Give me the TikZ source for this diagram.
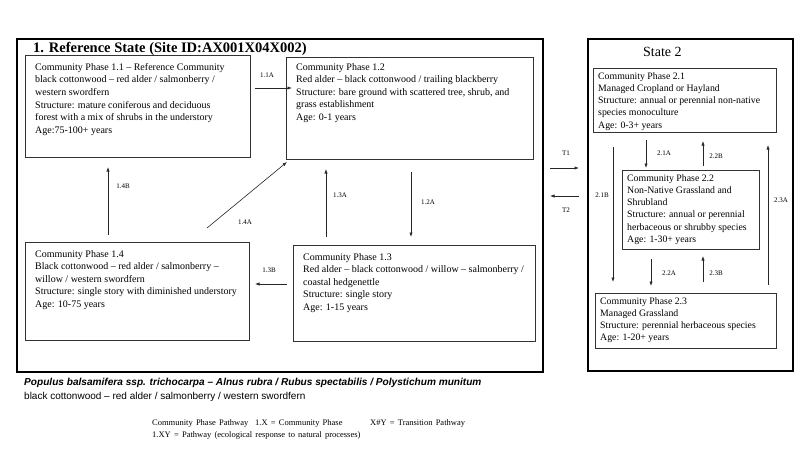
\documentclass[tikz,border=0pt]{standalone}
\usepackage{fontspec}
\setmainfont{Liberation Serif}
\newfontfamily\arialf{Liberation Sans}
\usetikzlibrary{arrows.meta,calc}
\newcommand\legendspace{\spaceskip=3.2pt plus 1pt\relax}
\begin{document}
\begin{tikzpicture}[x=1pt,y=-1pt,
  statebox/.style={draw=black,line width=2.4pt},
  pbox/.style={draw=black!80,line width=0.6pt,anchor=north west,inner sep=0pt},
  ptext/.style={anchor=north west,align=left,inner xsep=10pt,inner ysep=8pt,font=\fontsize{10}{12.6}\selectfont},
  ptextb/.style={ptext,inner xsep=5pt,inner ysep=4pt,font=\fontsize{9.8}{12.3}\selectfont},
  lbl/.style={font=\fontsize{7}{8}\selectfont,inner sep=1pt},
  legend/.style={anchor=north west,inner sep=0pt,font=\fontsize{8.5}{11}\selectfont\legendspace},
  arr/.style={draw=black!85,line width=0.6pt,-{Latex[length=4.5pt,width=3.2pt]}}
]
\useasboundingbox (0,0) rectangle (800,450);
\fill[white] (0,0) rectangle (800,450);
% state boxes
\node[statebox,anchor=north west,minimum width=526pt,minimum height=333pt,inner sep=0pt] (s1) at (16,38) {};
\node[statebox,anchor=north west,minimum width=205pt,minimum height=332pt,inner sep=0pt] (s2) at (587,38) {};
\node[anchor=north west,inner sep=0pt,font=\fontsize{14.5}{16}\selectfont\bfseries] (t1) at (33,42) {1. Reference State (Site ID:AX001X04X002)};
\node[anchor=north west,inner sep=0pt,font=\fontsize{14}{16}\selectfont] (t2) at (643,47) {State 2};
% phase boxes
\node[pbox,minimum width=225pt,minimum height=102pt] (b11) at (25,55) {};
\node[ptext] (x11) at (b11.north west) {Community Phase 1.1 – Reference Community\\black cottonwood – red alder / salmonberry /\\western swordfern\\Structure: mature coniferous and deciduous\\forest with a mix of shrubs in the understory\\Age:75-100+ years};
\node[pbox,minimum width=247pt,minimum height=102pt] (b12) at (286,57) {};
\node[ptext,inner ysep=6pt] (x12) at (b12.north west) {Community Phase 1.2\\Red alder – black cottonwood / trailing blackberry\\Structure: bare ground with scattered tree, shrub, and\\grass establishment\\Age: 0-1 years};
\node[pbox,minimum width=242pt,minimum height=96pt] (b13) at (293,245) {};
\node[ptext] (x13) at (b13.north west) {Community Phase 1.3\\Red alder – black cottonwood / willow – salmonberry /\\coastal hedgenettle\\Structure: single story\\Age: 1-15 years};
\node[pbox,minimum width=224pt,minimum height=98pt] (b14) at (25,242) {};
\node[ptext] (x14) at (b14.north west) {Community Phase 1.4\\Black cottonwood – red alder / salmonberry –\\willow / western swordfern\\Structure: single story with diminished understory\\Age: 10-75 years};
\node[pbox,minimum width=183pt,minimum height=64pt] (b21) at (593,68) {};
\node[ptextb] (x21) at (b21.north west) {Community Phase 2.1\\Managed Cropland or Hayland\\Structure: annual or perennial non-native\\species monoculture\\Age: 0-3+ years};
\node[pbox,minimum width=137pt,minimum height=79pt] (b22) at (622,170) {};
\node[ptextb] (x22) at (b22.north west) {Community Phase 2.2\\Non-Native Grassland and\\Shrubland\\Structure: annual or perennial\\herbaceous or shrubby species\\Age: 1-30+ years};
\node[pbox,minimum width=181pt,minimum height=55pt] (b23) at (595,293) {};
\node[ptextb] (x23) at (b23.north west) {Community Phase 2.3\\Managed Grassland\\Structure: perennial herbaceous species\\Age: 1-20+ years};
% arrow coordinates
\coordinate (a11s) at (255,88); \coordinate (a11e) at (292,88);
\coordinate (a14as) at (207,228); \coordinate (a14ae) at (287,162);
\coordinate (a14bs) at (108,235); \coordinate (a14be) at (108,167);
\coordinate (a13as) at (326,237); \coordinate (a13ae) at (326,169);
\coordinate (a12as) at (411,172); \coordinate (a12ae) at (411,237);
\coordinate (a13bs) at (287,284); \coordinate (a13be) at (255,284);
\coordinate (t1s) at (550,168); \coordinate (t1e) at (579,168);
\coordinate (t2s) at (579,196); \coordinate (t2e) at (550,196);
\coordinate (a21as) at (646,140); \coordinate (a21ae) at (646,168);
\coordinate (a22bs) at (703,166); \coordinate (a22be) at (703,141);
\coordinate (a21bs) at (613,147); \coordinate (a21be) at (613,282);
\coordinate (a23as) at (768,285); \coordinate (a23ae) at (768,145);
\coordinate (a22as) at (651,259); \coordinate (a22ae) at (651,286);
\coordinate (a23bs) at (703,282); \coordinate (a23be) at (703,256);
\draw[arr] (a11s) -- (a11e);
\draw[arr] (a14as) -- (a14ae);
\draw[arr] (a14bs) -- (a14be);
\draw[arr] (a13as) -- (a13ae);
\draw[arr] (a12as) -- (a12ae);
\draw[arr] (a13bs) -- (a13be);
\draw[arr] (t1s) -- (t1e);
\draw[arr] (t2s) -- (t2e);
\draw[arr] (a21as) -- (a21ae);
\draw[arr] (a22bs) -- (a22be);
\draw[arr] (a21bs) -- (a21be);
\draw[arr] (a23as) -- (a23ae);
\draw[arr] (a22as) -- (a22ae);
\draw[arr] (a23bs) -- (a23be);
% labels
\node[lbl] (l11a) at (267,75) {1.1A};
\node[lbl] (l14a) at (245,222) {1.4A};
\node[lbl] (l14b) at (123,186) {1.4B};
\node[lbl] (l13a) at (340,195) {1.3A};
\node[lbl] (l12a) at (428,202) {1.2A};
\node[lbl] (l13b) at (269,270) {1.3B};
\node[lbl] (lt1) at (566,153) {T1};
\node[lbl] (lt2) at (566,210) {T2};
\node[lbl] (l21a) at (664,153) {2.1A};
\node[lbl] (l22b) at (716,156) {2.2B};
\node[lbl] (l21b) at (602,195) {2.1B};
\node[lbl] (l23a) at (781,200) {2.3A};
\node[lbl] (l22a) at (669,273) {2.2A};
\node[lbl] (l23b) at (716,273) {2.3B};
% bottom text
\node[anchor=north west,inner sep=0pt,font=\arialf\fontsize{10.1}{11}\selectfont\bfseries\itshape] (sp1) at (24,378) {Populus balsamifera ssp. trichocarpa – Alnus rubra / Rubus spectabilis / Polystichum munitum};
\node[anchor=north west,inner sep=0pt,font=\arialf\fontsize{10}{11}\selectfont] (sp2) at (24,392) {black cottonwood – red alder / salmonberry / western swordfern};
\node[legend] (lg1) at (152,419) {Community Phase Pathway};
\node[legend] (lg2) at (255,419) {1.X = Community Phase};
\node[legend] (lg3) at (370,419) {X\#Y = Transition Pathway};
\node[legend] (lg4) at (152,431) {1.XY = Pathway (ecological response to natural processes)};
\end{tikzpicture}
\end{document}
